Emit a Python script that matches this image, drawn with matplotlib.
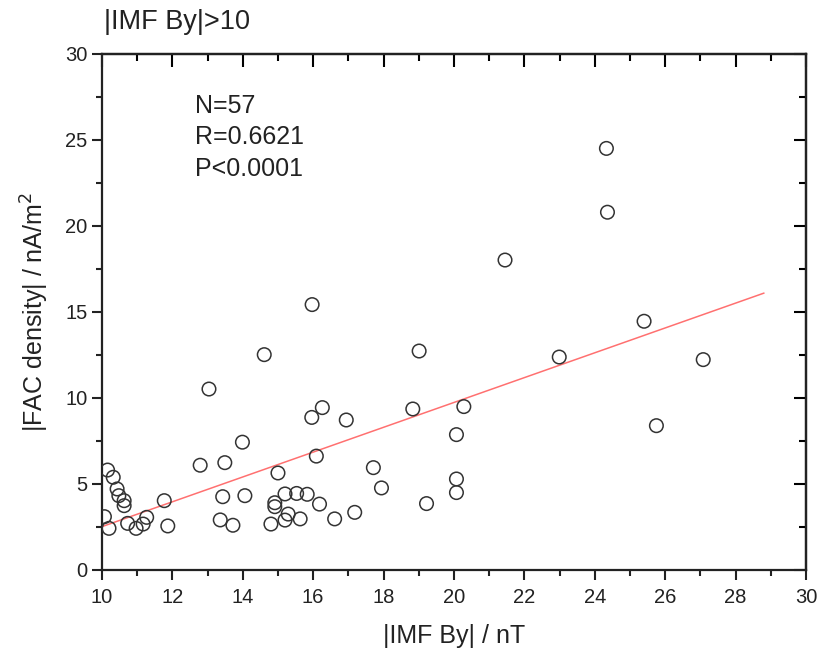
import numpy as np
import matplotlib
matplotlib.use('Agg')
import matplotlib.pyplot as plt
from matplotlib.ticker import MultipleLocator

plt.rcParams['font.family'] = ['Liberation Sans', 'DejaVu Sans']

# |IMF By| (nT) and |FAC density| (nA/m^2)
imf_by = [10.07, 10.20, 10.16, 10.32, 10.43, 10.48, 10.63, 10.63, 10.73, 10.97,
          11.17, 11.27, 11.77, 11.87, 12.79, 13.04, 13.36, 13.43, 13.49, 13.72,
          13.99, 14.06, 14.61, 14.80, 14.91, 14.91, 15.00, 15.20, 15.20, 15.29,
          15.53, 15.63, 15.83, 15.96, 15.97, 16.09, 16.18, 16.26, 16.61, 16.94,
          17.18, 17.71, 17.94, 18.83, 19.01, 19.22, 20.07, 20.07, 20.07, 20.28,
          21.45, 22.99, 24.33, 24.36, 25.40, 25.75, 27.08]
fac = [3.10, 2.42, 5.81, 5.39, 4.71, 4.32, 4.03, 3.74, 2.71, 2.42,
       2.67, 3.06, 4.03, 2.56, 6.09, 10.52, 2.91, 4.26, 6.24, 2.60,
       7.43, 4.32, 12.52, 2.67, 3.91, 3.68, 5.64, 4.42, 2.90, 3.25,
       4.45, 2.97, 4.40, 8.87, 15.43, 6.62, 3.83, 9.44, 2.97, 8.72,
       3.35, 5.95, 4.77, 9.36, 12.73, 3.86, 7.87, 5.29, 4.50, 9.50,
       18.02, 12.38, 24.51, 20.80, 14.46, 8.39, 12.23]

# linear fit as drawn
fit_slope = 0.722
fit_intercept = -4.70
fit_range = [10.0, 28.8]

stats_text = ['N=57', 'R=0.6621', 'P<0.0001']

fig = plt.figure(figsize=(8.33, 6.52), dpi=100)
ax = fig.add_axes([0.1224, 0.1258, 0.9676 - 0.1224, 0.9172 - 0.1258])

fx = np.array(fit_range)
ax.plot(fx, fit_slope * fx + fit_intercept, color='#ff7070', lw=1.1, zorder=2)
ax.scatter(imf_by, fac, s=95, facecolors='none', edgecolors='#333333',
           linewidths=1.1, zorder=3)

ax.set_xlim(10, 30)
ax.set_ylim(0, 30)
ax.xaxis.set_major_locator(MultipleLocator(2))
ax.xaxis.set_minor_locator(MultipleLocator(1))
ax.yaxis.set_major_locator(MultipleLocator(5))
ax.yaxis.set_minor_locator(MultipleLocator(2.5))
ax.tick_params(which='major', direction='out', length=7, width=1.5,
               labelsize=14.5, colors='#222222')
ax.tick_params(axis='x', which='major', pad=6)
ax.tick_params(which='minor', direction='out', length=4, width=1.5,
               colors='#222222')
for s in ax.spines.values():
    s.set_linewidth(1.6)
    s.set_color('#222222')

# inward ticks on top and right, no labels
top = ax.secondary_xaxis('top')
top.xaxis.set_major_locator(MultipleLocator(2))
top.xaxis.set_minor_locator(MultipleLocator(1))
top.tick_params(which='major', direction='in', length=9, width=1.5, labeltop=False)
top.tick_params(which='minor', direction='in', length=5, width=1.5)
top.spines['top'].set_linewidth(1.6)
right = ax.secondary_yaxis('right')
right.yaxis.set_major_locator(MultipleLocator(5))
right.yaxis.set_minor_locator(MultipleLocator(2.5))
right.tick_params(which='major', direction='in', length=9, width=1.5, labelright=False)
right.tick_params(which='minor', direction='in', length=5, width=1.5)
right.spines['right'].set_linewidth(1.6)

ax.set_xlabel('|IMF By| / nT', fontsize=18, labelpad=12, color='#222222')
ax.set_ylabel('|FAC density| / nA/m$^2$', fontsize=18, labelpad=10, color='#222222')

for i, t in enumerate(stats_text):
    ax.text(0.132, 0.9 - i * 0.061, t, transform=ax.transAxes, fontsize=18,
            va='center', ha='left', color='#222222')

fig.text(0.125, 0.967, '|IMF By|>10', fontsize=19.5, va='center', ha='left',
         color='#222222')

fig.savefig('out.png', dpi=100)
